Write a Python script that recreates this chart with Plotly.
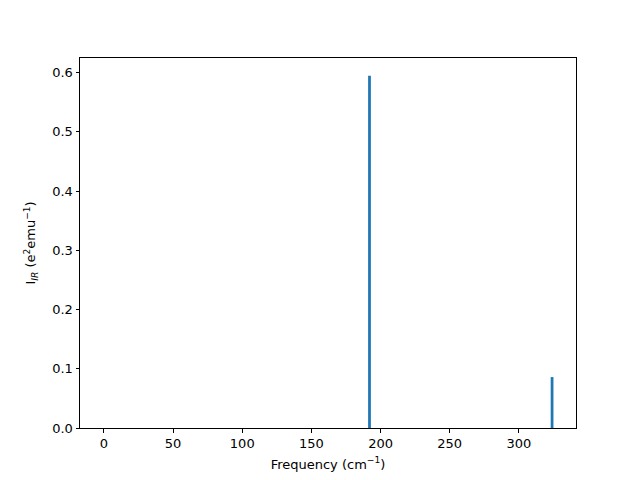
import plotly.graph_objects as go

freqs = [0, 192, 324]
intensities = [0.0, 0.595, 0.086]
bar_width = 2

fig = go.Figure()
fig.add_trace(go.Bar(x=freqs, y=intensities, width=bar_width,
                     marker=dict(color="#1f77b4", line=dict(width=0))))

axis_common = dict(showgrid=False, zeroline=False, showline=True, linecolor="black",
                   linewidth=1, mirror=True, ticks="outside", ticklen=3.5,
                   tickcolor="black", tickfont=dict(family="DejaVu Sans", size=13, color="black"),
                   title_font=dict(family="DejaVu Sans", size=13, color="black"))

fig.update_layout(
    width=640, height=480,
    margin=dict(l=72, r=72, t=50, b=60, autoexpand=False),
    paper_bgcolor="white", plot_bgcolor="white",
    showlegend=False,
    xaxis=dict(range=[-17.3, 341.3], tickvals=[0, 50, 100, 150, 200, 250, 300],
               title=dict(text="Frequency (cm<sup>−1</sup>)", standoff=9), **axis_common),
    yaxis=dict(range=[0, 0.6248], tickvals=[0, 0.1, 0.2, 0.3, 0.4, 0.5, 0.6],
               tickformat=".1f",
               title=dict(text="I<sub><i>IR</i></sub> (e<sup>2</sup>emu<sup>−1</sup>)", standoff=13),
               **axis_common),
)

fig.write_html("out.html")
